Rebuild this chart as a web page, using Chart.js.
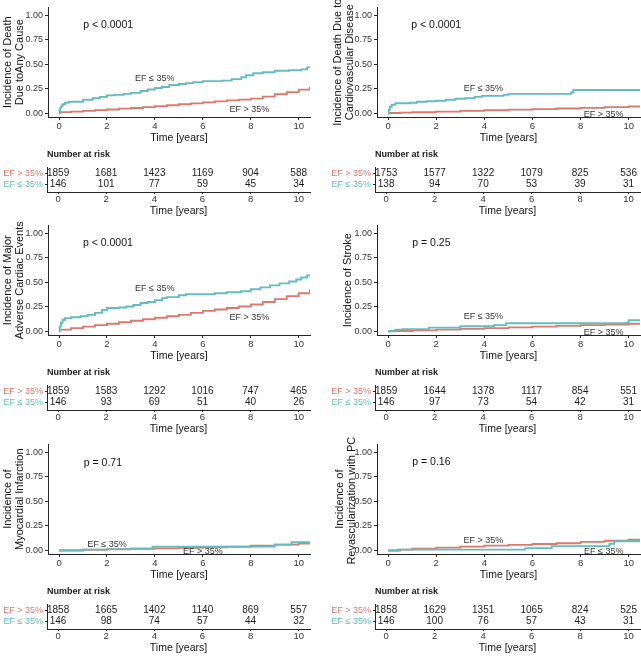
<!DOCTYPE html>
<html>
<head>
<meta charset="utf-8">
<script src="https://cdn.jsdelivr.net/npm/chart.js@4/dist/chart.umd.min.js"></script>
<style>
  body { margin: 0; background: #fff; }
  #wrap { position: relative; width: 641px; height: 657px; }
  canvas { position: absolute; }
</style>
</head>
<body>
<div id="wrap"></div>
<script>
const FONT = "'Liberation Sans', Arial, sans-serif";
const RED = 'rgb(219,121,110)';
const TEAL = 'rgb(99,189,191)';
const AXIS = '#262626';
const TIME_TICKS = [0, 2, 4, 6, 8, 10];
const INC_TICKS = [0, 0.25, 0.5, 0.75, 1];
const XMIN = -0.46, XMAX = 10.47;

// death due to any cause: [time, cumulative incidence]
const deathAnyHigh = [[0,0.01],[0.1,0.015],[0.5,0.02],[1,0.027],[1.5,0.035],[2,0.042],[2.5,0.05],[3,0.057],[3.5,0.065],[4,0.074],[4.5,0.084],[5,0.094],[5.5,0.104],[6,0.114],[6.5,0.124],[7,0.134],[7.5,0.142],[8,0.152],[8.5,0.172],[9,0.197],[9.5,0.218],[10,0.243],[10.47,0.272]];
const deathAnyLow = [[0,0],[0.02,0.03],[0.05,0.06],[0.1,0.08],[0.15,0.095],[0.25,0.11],[0.4,0.12],[1.0,0.14],[1.4,0.155],[1.7,0.17],[2.0,0.185],[2.3,0.19],[2.7,0.2],[3.0,0.21],[3.4,0.23],[3.7,0.245],[4.0,0.26],[4.3,0.27],[4.6,0.29],[5.0,0.3],[5.3,0.31],[5.6,0.32],[6.0,0.33],[6.8,0.335],[7.2,0.35],[7.6,0.37],[7.8,0.39],[8.1,0.41],[8.5,0.42],[9.0,0.435],[9.6,0.44],[10.1,0.45],[10.35,0.47],[10.47,0.47]];
const deathAnyRiskHigh = [1859, 1681, 1423, 1169, 904, 588];
const deathAnyRiskLow = [146, 101, 77, 59, 45, 34];

// death due to cardiovascular disease
const deathCvdHigh = [[0,0.005],[0.5,0.01],[1,0.013],[2,0.02],[3,0.027],[4,0.033],[5,0.04],[6,0.045],[7,0.052],[8,0.058],[9,0.065],[10,0.072],[10.47,0.075]];
const deathCvdLow = [[0,0],[0.03,0.04],[0.08,0.07],[0.15,0.09],[0.3,0.105],[0.9,0.11],[1.2,0.12],[1.6,0.125],[2.0,0.13],[2.4,0.14],[2.8,0.15],[3.2,0.155],[3.6,0.17],[3.9,0.18],[4.8,0.19],[5.0,0.2],[7.6,0.215],[7.7,0.24],[10.47,0.24]];
const deathCvdRiskHigh = [1753, 1577, 1322, 1079, 825, 536];
const deathCvdRiskLow = [138, 94, 70, 53, 39, 31];

// major adverse cardiac events
const maceHigh = [[0,0.02],[0.5,0.035],[1,0.05],[1.5,0.065],[2,0.08],[2.5,0.095],[3,0.11],[3.5,0.125],[4,0.14],[4.5,0.155],[5,0.17],[5.5,0.19],[6,0.21],[6.5,0.225],[7,0.24],[7.5,0.255],[8,0.275],[8.5,0.3],[9,0.33],[9.5,0.36],[10,0.39],[10.47,0.43]];
const maceLow = [[0,0],[0.03,0.05],[0.08,0.09],[0.15,0.12],[0.25,0.135],[0.5,0.145],[0.9,0.155],[1.2,0.17],[1.5,0.19],[1.8,0.22],[2.0,0.24],[2.5,0.245],[2.8,0.255],[3.1,0.27],[3.4,0.29],[3.7,0.3],[4.0,0.32],[4.3,0.34],[4.5,0.35],[5.0,0.37],[5.3,0.38],[6.5,0.39],[7.0,0.4],[7.6,0.41],[8.0,0.43],[8.4,0.45],[8.8,0.47],[9.2,0.49],[9.6,0.51],[9.9,0.53],[10.1,0.55],[10.35,0.57],[10.47,0.57]];
const maceRiskHigh = [1859, 1583, 1292, 1016, 747, 465];
const maceRiskLow = [146, 93, 69, 51, 40, 26];

// stroke
const strokeHigh = [[0,0.005],[1,0.012],[2,0.02],[3,0.028],[4,0.035],[5,0.043],[6,0.05],[7,0.058],[8,0.065],[9,0.072],[10,0.08],[10.47,0.085]];
const strokeLow = [[0,0],[0.1,0.01],[0.3,0.02],[0.6,0.025],[1.7,0.04],[3.0,0.055],[4.4,0.065],[4.9,0.085],[9.9,0.09],[10.0,0.115],[10.47,0.115]];
const strokeRiskHigh = [1859, 1644, 1378, 1117, 854, 551];
const strokeRiskLow = [146, 97, 73, 54, 42, 31];

// myocardial infarction
const miHigh = [[0,0],[1,0.008],[2,0.013],[3,0.018],[4,0.022],[5,0.027],[6,0.032],[7,0.038],[8,0.05],[9,0.06],[10,0.072],[10.47,0.078]];
const miLow = [[0,0],[0.2,0.003],[1,0.01],[2,0.015],[3,0.02],[3.9,0.04],[9.0,0.06],[9.7,0.085],[10.47,0.085]];
const miRiskHigh = [1858, 1665, 1402, 1140, 869, 557];
const miRiskLow = [146, 98, 74, 57, 44, 32];

// revascularization with PCI
const pciHigh = [[0,0],[0.5,0.01],[1,0.018],[2,0.03],[3,0.04],[4,0.05],[5,0.058],[6,0.066],[7,0.075],[8,0.088],[9,0.1],[10,0.11],[10.47,0.12]];
const pciLow = [[0,0],[0.4,0.01],[5.7,0.025],[6.8,0.045],[9.2,0.07],[9.4,0.095],[10.47,0.095]];
const pciRiskHigh = [1858, 1629, 1351, 1065, 824, 525];
const pciRiskLow = [146, 100, 76, 57, 43, 31];

const panels = [
  { col: 0, row: 0, title: ['Incidence of Death', 'Due toAny Cause'], titlePad: 2,
    high: deathAnyHigh, low: deathAnyLow, riskHigh: deathAnyRiskHigh, riskLow: deathAnyRiskLow,
    p: 'p < 0.0001', pAt: [2.05, 0.9], lowAt: [3.99, 0.356], highAt: [7.94, 0.043] },
  { col: 1, row: 0, title: ['Incidence of Death Due to', 'Cardiovascular Disease'], titlePad: 12,
    high: deathCvdHigh, low: deathCvdLow, riskHigh: deathCvdRiskHigh, riskLow: deathCvdRiskLow,
    p: 'p < 0.0001', pAt: [2.0, 0.9], lowAt: [3.96, 0.25], highAt: [8.96, -0.01] },
  { col: 0, row: 1, title: ['Incidence of Major', 'Adverse Cardiac Events'], titlePad: 2,
    high: maceHigh, low: maceLow, riskHigh: maceRiskHigh, riskLow: maceRiskLow,
    p: 'p < 0.0001', pAt: [2.04, 0.9], lowAt: [3.99, 0.44], highAt: [7.94, 0.14] },
  { col: 1, row: 1, title: 'Incidence of Stroke', titlePad: 22,
    high: strokeHigh, low: strokeLow, riskHigh: strokeRiskHigh, riskLow: strokeRiskLow,
    p: 'p = 0.25', pAt: [1.8, 0.9], lowAt: [3.96, 0.15], highAt: [8.96, -0.01] },
  { col: 0, row: 2, title: ['Incidence of', 'Myocardial Infarction'], titlePad: 2,
    high: miHigh, low: miLow, riskHigh: miRiskHigh, riskLow: miRiskLow,
    p: 'p = 0.71', pAt: [1.83, 0.89], lowAt: [2.0, 0.066], highAt: [6.0, -0.007] },
  { col: 1, row: 2, title: ['Incidence of', 'Revascularization with PCI'], titlePad: 14,
    high: pciHigh, low: pciLow, riskHigh: pciRiskHigh, riskLow: pciRiskLow,
    p: 'p = 0.16', pAt: [1.8, 0.9], highAt: [3.96, 0.1], lowAt: [8.96, -0.007] }
];

const ROW_TOPS = [0, 218, 437];
const wrap = document.getElementById('wrap');

function addCanvas(left, top, w, h) {
  const c = document.createElement('canvas');
  c.width = w; c.height = h;
  c.style.left = left + 'px'; c.style.top = top + 'px';
  c.style.width = w + 'px'; c.style.height = h + 'px';
  wrap.appendChild(c);
  return c;
}

function xAxis(height, tickLen, tickPad) {
  return {
    type: 'linear', min: XMIN, max: XMAX,
    afterBuildTicks: s => { s.ticks = TIME_TICKS.map(v => ({ value: v })); },
    afterFit: s => { s.height = height; },
    ticks: { font: { size: 9.5, family: FONT }, color: '#333', padding: tickPad, maxRotation: 0 },
    grid: { drawOnChartArea: false, drawTicks: true, tickLength: tickLen, color: AXIS },
    border: { display: true, color: AXIS, width: 1 },
    title: { display: true, text: 'Time [years]', color: '#111',
             font: { size: 10.5, family: FONT }, padding: { top: 0, bottom: 2 } }
  };
}

function curve(points, color) {
  return {
    data: points.map(([x, y]) => ({ x, y })),
    borderColor: color, borderWidth: 1.9, pointRadius: 0,
    stepped: 'before', fill: false, tension: 0
  };
}

function kmChart(p) {
  const left = p.col === 0 ? 0 : 320;
  const width = p.col === 0 ? 320 : 321;
  const top = ROW_TOPS[p.row];
  const canvas = addCanvas(left, top, width, 146);
  const labels = [
    { text: p.p, at: p.pAt, font: `10.5px ${FONT}`, color: '#111' },
    { text: 'EF ≤ 35%', at: p.lowAt, font: `9px ${FONT}`, color: '#333' },
    { text: 'EF > 35%', at: p.highAt, font: `9px ${FONT}`, color: '#333' }
  ];
  new Chart(canvas, {
    type: 'line',
    data: { datasets: [curve(p.low, TEAL), curve(p.high, RED)] },
    options: {
      responsive: false, animation: false,
      layout: { padding: { left: 0, right: p.col === 0 ? 10 : 1, top: 5, bottom: 0 } },
      plugins: { legend: { display: false }, tooltip: { enabled: false } },
      scales: {
        x: xAxis(29, 3, 1),
        y: {
          type: 'linear', min: -0.035, max: 1.08,
          afterBuildTicks: s => { s.ticks = INC_TICKS.map(v => ({ value: v })); },
          afterFit: s => { s.width = p.col === 0 ? 48 : 57; },
          ticks: { font: { size: 9, family: FONT }, color: '#333', padding: 2,
                   callback: v => v.toFixed(2) },
          grid: { drawOnChartArea: false, drawTicks: true, tickLength: 3, color: AXIS },
          border: { display: true, color: AXIS, width: 1 },
          title: { display: true, text: p.title, color: '#111',
                   font: { size: 11, family: FONT, lineHeight: 1.1 },
                   padding: { top: p.titlePad, bottom: 0 } }
        }
      }
    },
    plugins: [{
      id: 'kmLabels',
      afterDatasetsDraw(chart) {
        const { ctx, scales: { x, y } } = chart;
        ctx.save();
        ctx.textAlign = 'center';
        ctx.textBaseline = 'middle';
        labels.forEach(l => {
          ctx.font = l.font;
          ctx.fillStyle = l.color;
          ctx.fillText(l.text, x.getPixelForValue(l.at[0]), y.getPixelForValue(l.at[1]));
        });
        ctx.restore();
      }
    }]
  });
}

function riskTable(p) {
  const left = p.col === 0 ? 0 : 320;
  const width = p.col === 0 ? 320 : 321;
  const top = ROW_TOPS[p.row] + 147;
  const canvas = addCanvas(left, top, width, 72);
  const row = (counts, y) => ({
    data: TIME_TICKS.map(t => ({ x: t, y })), counts,
    pointRadius: 0, showLine: false
  });
  new Chart(canvas, {
    type: 'scatter',
    data: { datasets: [row(p.riskHigh, 1), row(p.riskLow, 0)] },
    options: {
      responsive: false, animation: false,
      layout: { padding: { left: 0, right: p.col === 0 ? 10 : 1, top: 20, bottom: 0 } },
      plugins: { legend: { display: false }, tooltip: { enabled: false } },
      scales: {
        x: xAxis(27, 2, 0),
        y: {
          type: 'linear', min: -0.726, max: 1.632,
          afterBuildTicks: s => { s.ticks = [{ value: 0 }, { value: 1 }]; },
          afterFit: s => { s.width = p.col === 0 ? 47 : 55; },
          ticks: { font: { size: 9, family: FONT }, padding: 2,
                   color: c => (c.tick && c.tick.value === 1 ? RED : TEAL),
                   callback: v => (v === 1 ? 'EF > 35%' : 'EF ≤ 35%') },
          grid: { drawOnChartArea: false, drawTicks: true, tickLength: 2, color: AXIS },
          border: { display: true, color: AXIS, width: 1 }
        }
      }
    },
    plugins: [{
      id: 'riskText',
      afterDatasetsDraw(chart) {
        const ctx = chart.ctx;
        ctx.save();
        ctx.fillStyle = '#1a1a1a';
        ctx.textAlign = 'center';
        ctx.textBaseline = 'middle';
        ctx.font = `10px ${FONT}`;
        chart.data.datasets.forEach((ds, i) => {
          chart.getDatasetMeta(i).data.forEach((pt, j) => {
            ctx.fillText(String(ds.counts[j]), pt.x, pt.y);
          });
        });
        ctx.textAlign = 'left';
        ctx.font = `bold 9px ${FONT}`;
        ctx.fillText('Number at risk', chart.chartArea.left, 8);
        ctx.restore();
      }
    }]
  });
}

panels.forEach(p => { kmChart(p); riskTable(p); });
</script>
</body>
</html>
